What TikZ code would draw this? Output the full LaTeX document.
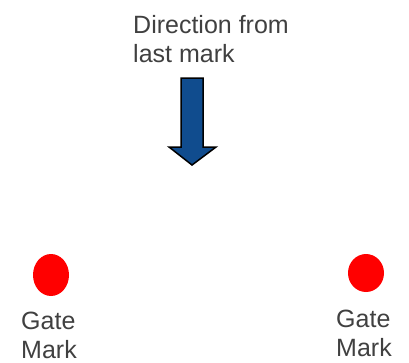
\documentclass[tikz,border=0pt]{standalone}
\usepackage{fontspec}
\setmainfont{Liberation Sans}
\definecolor{txtgray}{RGB}{64,64,64}
\definecolor{arrowblue}{RGB}{16,76,142}
\begin{document}
\begin{tikzpicture}[x=1pt,y=-1pt,
  lbl/.style={anchor=base west,inner sep=0pt,text=txtgray,font=\fontsize{25}{30}\selectfont}]
\useasboundingbox (0,0) rectangle (409,362);
% title
\node[lbl] (t1) at (133,33) {Direction from};
\node[lbl] (t2) at (133,62) {last mark};
% arrow
\draw[fill=arrowblue,draw=black,line width=1.5pt,line join=miter]
  (181,78) -- (203,78) -- (203,147) -- (216,147) -- (192,165) -- (169,147) -- (181,147) -- cycle;
% gate marks
\fill[red] (51,275) ellipse [x radius=18,y radius=21];
\fill[red] (366,273) ellipse [x radius=18,y radius=19];
\node[lbl] (g1) at (21,329) {Gate};
\node[lbl] (m1) at (21,358) {Mark};
\node[lbl] (g2) at (336,327) {Gate};
\node[lbl] (m2) at (336,356) {Mark};
\end{tikzpicture}
\end{document}
